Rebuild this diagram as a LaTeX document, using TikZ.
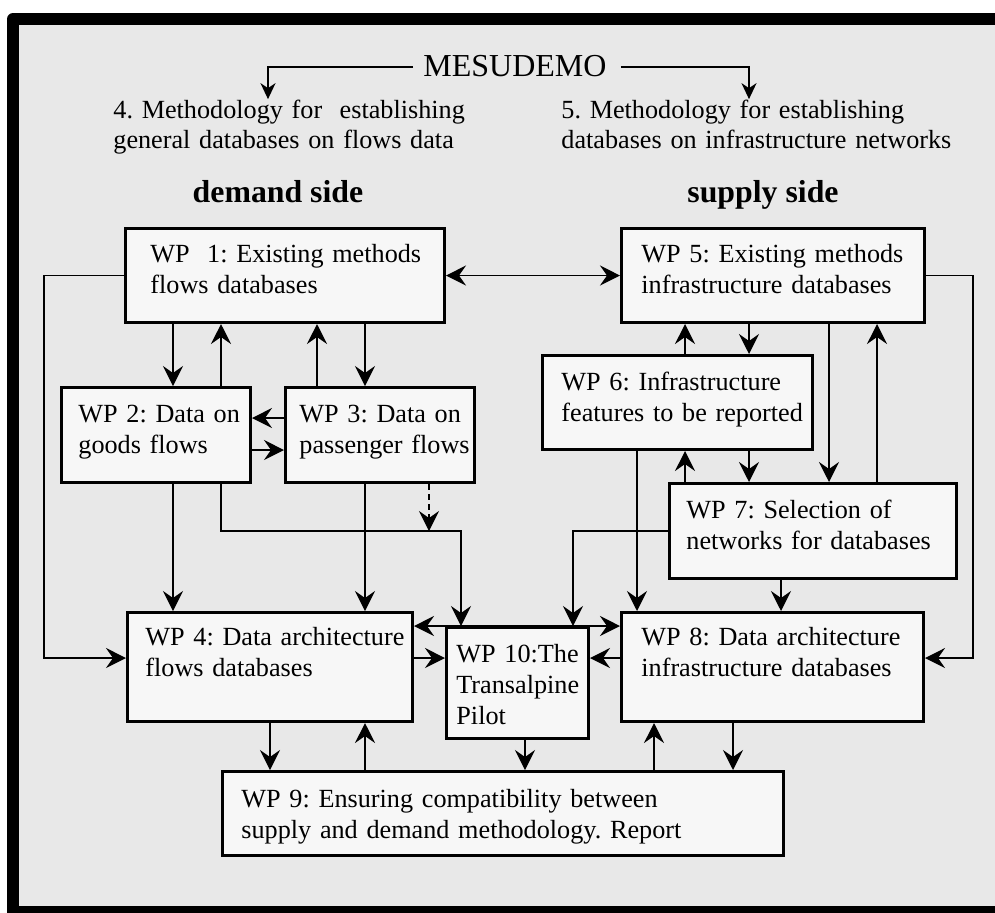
\documentclass[tikz,border=0pt]{standalone}
\usepackage{fontspec}
\setmainfont{Liberation Serif}
\usetikzlibrary{arrows.meta}
\definecolor{panelgrey}{HTML}{E8E8E8}
\definecolor{wpfill}{HTML}{F7F7F7}
\frenchspacing
\begin{document}
\begin{tikzpicture}[x=0.5pt,y=-0.5pt,
    >={Stealth[length=10pt,width=10pt,inset=3.5pt]},
    wpbox/.style={draw,line width=1.5pt,fill=wpfill,anchor=north west,inner sep=0pt},
    wptext/.style={anchor=base west,inner sep=0pt,text width=400pt,align=left,
      font=\fontsize{13.1}{15.5}\selectfont},
    headtext/.style={wptext,font=\fontsize{13.1}{15}\selectfont},
    sidetext/.style={anchor=base,inner sep=0pt,font=\bfseries\fontsize{15.9}{19}\selectfont},
    flow/.style={line width=0.75pt,->}]
  \useasboundingbox (0,0) rectangle (995,912);
  \clip (0,0) rectangle (995,912);
  \fill[rounded corners=3pt] (7,13) rectangle (1020,930);
  \fill[panelgrey] (19,25) rectangle (1020,906);

  \node[inner sep=0pt,anchor=base,font=\fontsize{16}{19}\selectfont] (mesudemo) at (515,76) {MESUDEMO};
  \node[headtext] (method4) at (113,118) {4. Methodology for~ establishing\\general databases on flows data};
  \node[headtext] (method5) at (561,118) {5. Methodology for establishing\\databases on infrastructure networks};
  \node[sidetext] (demand) at (278,202) {demand side};
  \node[sidetext] (supply) at (763,202) {supply side};
  \draw[line width=1pt,-{Stealth[length=8pt,width=7.5pt,inset=2.5pt]}]
    ([xshift=-5pt,yshift=4.5pt]mesudemo.base west) -| (268,0 |- method4.north);
  \draw[line width=1pt,-{Stealth[length=8pt,width=7.5pt,inset=2.5pt]}]
    ([xshift=7pt,yshift=4.5pt]mesudemo.base east) -| (749,0 |- method5.north);

  \node[wpbox,minimum width=159.5pt,minimum height=47pt] (wp1) at (124,227) {};
  \node[wpbox,minimum width=151.5pt,minimum height=47pt] (wp5) at (620,227) {};
  \node[wpbox,minimum width=94.5pt,minimum height=47.5pt] (wp2) at (60,386) {};
  \node[wpbox,minimum width=94.5pt,minimum height=47.5pt] (wp3) at (284,386) {};
  \node[wpbox,minimum width=135pt,minimum height=47pt] (wp6) at (541,354) {};
  \node[wpbox,minimum width=143.5pt,minimum height=47.5pt] (wp7) at (668,482) {};
  \node[wpbox,minimum width=142.5pt,minimum height=54.5pt] (wp4) at (126,611) {};
  \node[wpbox,minimum width=71pt,minimum height=55.5pt] (wp10) at (445,626) {};
  \node[wpbox,minimum width=151pt,minimum height=54.5pt] (wp8) at (620,611) {};
  \node[wpbox,minimum width=280.5pt,minimum height=42pt] (wp9) at (221,770) {};

  \node[wptext] (wp1text) at (150,262) {WP~ 1: Existing methods\\flows databases};
  \node[wptext] (wp5text) at (641,262) {WP 5: Existing methods\\infrastructure databases};
  \node[wptext] (wp2text) at (78,422) {WP 2: Data on\\goods flows};
  \node[wptext] (wp3text) at (299,422) {WP 3: Data on\\passenger flows};
  \node[wptext] (wp6text) at (561,390) {WP 6: Infrastructure\\features to be reported};
  \node[wptext] (wp7text) at (686,518) {WP 7: Selection of\\networks for databases};
  \node[wptext] (wp4text) at (145,645) {WP 4: Data architecture\\flows databases};
  \node[wptext] (wp10text) at (456,662) {WP 10:The\\Transalpine\\Pilot};
  \node[wptext] (wp8text) at (641,645) {WP 8: Data architecture\\infrastructure databases};
  \node[wptext] (wp9text) at (241,807) {WP 9: Ensuring compatibility between\\supply and demand methodology. Report};
  \coordinate (pilotjoin) at (429,531);

  \begin{scope}[flow]
    \draw[<->] (wp1.east) -- (wp5.west);
    \draw (wp1.west) -| (44,658) -- (wp4.west |- 0,658);
    \draw (wp5.east) -| (973,658) -- (wp8.east |- 0,658);
    \draw (173,0 |- wp1.south) -- (173,0 |- wp2.north);
    \draw (221,0 |- wp2.north) -- (221,0 |- wp1.south);
    \draw (317,0 |- wp3.north) -- (317,0 |- wp1.south);
    \draw (365,0 |- wp1.south) -- (365,0 |- wp3.north);
    \draw (wp3.west |- 0,418) -- (wp2.east |- 0,418);
    \draw (wp2.east |- 0,450) -- (wp3.west |- 0,450);
    \draw (173,0 |- wp2.south) -- (173,0 |- wp4.north);
    \draw (221,0 |- wp2.south) |- (461,531) -- (461,0 |- wp10.north);
    \draw (365,0 |- wp3.south) -- (365,0 |- wp4.north);
    \draw[dash pattern=on 3pt off 2pt] (429,0 |- wp3.south) -- (pilotjoin);
    \draw (685,0 |- wp6.north) -- (685,0 |- wp5.south);
    \draw (749,0 |- wp5.south) -- (749,0 |- wp6.north);
    \draw (829,0 |- wp5.south) -- (829,0 |- wp7.north);
    \draw (877,0 |- wp7.north) -- (877,0 |- wp5.south);
    \draw (685,0 |- wp7.north) -- (685,0 |- wp6.south);
    \draw (749,0 |- wp6.south) -- (749,0 |- wp7.north);
    \draw (637,0 |- wp6.south) -- (637,0 |- wp8.north);
    \draw (wp7.west) -| (573,0 |- wp10.north);
    \draw (781,0 |- wp7.south) -- (781,0 |- wp8.north);
    \draw[<->,line width=1.25pt] (wp4.east |- wp10.north) -- (wp8.west |- wp10.north);
    \draw (wp4.east |- 0,658) -- (wp10.west |- 0,658);
    \draw (wp8.west |- 0,658) -- (wp10.east |- 0,658);
    \draw (270,0 |- wp4.south) -- (270,0 |- wp9.north);
    \draw (365,0 |- wp9.north) -- (365,0 |- wp4.south);
    \draw (525,0 |- wp10.south) -- (525,0 |- wp9.north);
    \draw (654,0 |- wp9.north) -- (654,0 |- wp8.south);
    \draw (733,0 |- wp8.south) -- (733,0 |- wp9.north);
  \end{scope}
\end{tikzpicture}
\end{document}
